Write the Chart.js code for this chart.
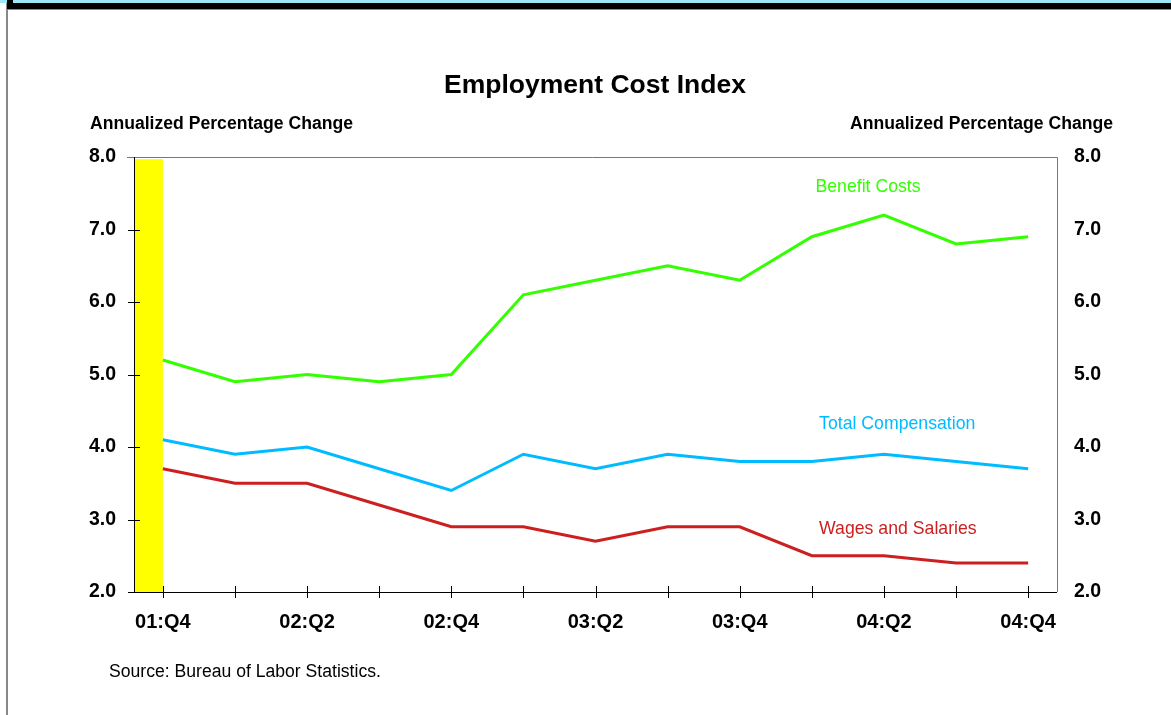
<!DOCTYPE html>
<html>
<head>
<meta charset="utf-8">
<script src="https://cdn.jsdelivr.net/npm/chart.js@4"></script>
<style>
  body { margin: 0; background: #fff; font-family: "Liberation Sans", Arial, sans-serif; }
  #wrap { position: relative; width: 1171px; height: 715px; overflow: hidden; }
  #chart { position: absolute; left: 0; top: 0; }
  .cyan { position: absolute; left: 0; top: 0; width: 1171px; height: 3px; background: #9de6f6; }
  .black { position: absolute; left: 7px; top: 3px; width: 1164px; height: 6px; background: #000; }
  .blackL { position: absolute; left: 7px; top: 0; width: 6px; height: 9px; background: #000; }
  .grayT { position: absolute; left: 7px; top: 9px; width: 1164px; height: 1px; background: #888; }
  .grayL { position: absolute; left: 6px; top: 0; width: 2px; height: 715px; background: #888; }
  .txt { position: absolute; white-space: nowrap; color: #000; }
  #title { left: 0; width: 1190px; text-align: center; top: 69px; font-size: 26.5px; font-weight: bold; }
  .axt { top: 113px; font-size: 17.6px; font-weight: bold; }
  #src { left: 109px; top: 661px; font-size: 17.6px; }
</style>
</head>
<body>
<div id="wrap">
  <canvas id="chart" width="1171" height="715"></canvas>
  <div class="grayL"></div>
  <div class="cyan"></div>
  <div class="black"></div>
  <div class="blackL"></div>
  <div class="grayT"></div>
  <div class="txt" id="title">Employment Cost Index</div>
  <div class="txt axt" style="left:90px">Annualized Percentage Change</div>
  <div class="txt axt" style="right:58px">Annualized Percentage Change</div>
  <div class="txt" id="src">Source: Bureau of Labor Statistics.</div>
</div>
<script>
// quarters 01:Q4 .. 04:Q4
const quarters = ['01:Q4', '02:Q1', '02:Q2', '02:Q3', '02:Q4', '03:Q1', '03:Q2',
                  '03:Q3', '03:Q4', '04:Q1', '04:Q2', '04:Q3', '04:Q4'];
const benefitCosts = [5.2, 4.9, 5.0, 4.9, 5.0, 6.1, 6.3, 6.5, 6.3, 6.9, 7.2, 6.8, 6.9];
const totalComp = [4.1, 3.9, 4.0, 3.7, 3.4, 3.9, 3.7, 3.9, 3.8, 3.8, 3.9, 3.8, 3.7];
const wagesSalaries = [3.7, 3.5, 3.5, 3.2, 2.9, 2.9, 2.7, 2.9, 2.9, 2.5, 2.5, 2.4, 2.4];
const yTicks = [2, 3, 4, 5, 6, 7, 8];
const xLabelIdx = [0, 2, 4, 6, 8, 10, 12];
// recession shading (ends 01:Q4)
const recession = { from: -0.4, to: 0, top: 7.97 };

const GREEN = '#33ff00', CYAN = '#00bbff', RED = '#cc1f1f';

const seriesLabels = [
  { text: 'Benefit Costs', x: 9.05, y: 7.59, color: GREEN },
  { text: 'Total Compensation', x: 9.1, y: 4.32, color: CYAN },
  { text: 'Wages and Salaries', x: 9.1, y: 2.87, color: RED }
];

const toPts = arr => arr.map((v, i) => ({ x: i, y: v }));

// frame, tick marks, recession bar, series labels
const decor = {
  id: 'decor',
  beforeDatasetsDraw(chart) {
    const ctx = chart.ctx, xs = chart.scales.x, ys = chart.scales.y;
    ctx.save();
    ctx.fillStyle = '#ffff00';
    const x1 = xs.getPixelForValue(recession.from), x2 = xs.getPixelForValue(recession.to);
    const y1 = ys.getPixelForValue(recession.top), y2 = ys.getPixelForValue(2);
    ctx.fillRect(x1, y1, x2 - x1, y2 - y1);
    ctx.restore();
  },
  afterDraw(chart) {
    const ctx = chart.ctx, a = chart.chartArea, xs = chart.scales.x, ys = chart.scales.y;
    ctx.save();
    ctx.lineWidth = 1;
    // gray top and right
    ctx.strokeStyle = '#777';
    ctx.beginPath();
    ctx.moveTo(a.left - 7, a.top + 0.5); ctx.lineTo(a.right + 0.5, a.top + 0.5);
    ctx.lineTo(a.right + 0.5, a.bottom);
    ctx.stroke();
    // black left and bottom
    ctx.strokeStyle = '#000';
    ctx.beginPath();
    ctx.moveTo(a.left + 0.5, a.top); ctx.lineTo(a.left + 0.5, a.bottom + 0.5);
    ctx.lineTo(a.right, a.bottom + 0.5);
    ctx.stroke();
    // ticks
    ctx.beginPath();
    yTicks.forEach(v => {
      const y = Math.round(ys.getPixelForValue(v)) + 0.5;
      if (v === 8) return;
      ctx.moveTo(a.left - 6, y); ctx.lineTo(a.left + 6, y);
    });
    quarters.forEach((q, i) => {
      const x = Math.round(xs.getPixelForValue(i)) + 0.5;
      ctx.moveTo(x, a.bottom - 6); ctx.lineTo(x, a.bottom + 6);
    });
    ctx.stroke();
    // series labels
    ctx.font = '17.7px "Liberation Sans", Arial, sans-serif';
    ctx.textBaseline = 'middle';
    ctx.textAlign = 'left';
    seriesLabels.forEach(l => {
      ctx.fillStyle = l.color;
      ctx.fillText(l.text, xs.getPixelForValue(l.x), ys.getPixelForValue(l.y));
    });
    ctx.restore();
  }
};

const tickFont = { family: '"Liberation Sans", Arial, sans-serif', size: 19.5, weight: 'bold' };
const xFont = { family: '"Liberation Sans", Arial, sans-serif', size: 20, weight: 'bold' };

new Chart(document.getElementById('chart'), {
  type: 'line',
  data: {
    datasets: [
      { label: 'Benefit Costs', data: toPts(benefitCosts), borderColor: GREEN },
      { label: 'Total Compensation', data: toPts(totalComp), borderColor: CYAN },
      { label: 'Wages and Salaries', data: toPts(wagesSalaries), borderColor: RED }
    ]
  },
  options: {
    responsive: false,
    animation: false,
    layout: { padding: { top: 157, left: 0, right: 0, bottom: 0 } },
    elements: {
      line: { borderWidth: 3, tension: 0, borderJoinStyle: 'miter' },
      point: { radius: 0 }
    },
    plugins: { legend: { display: false }, tooltip: { enabled: false } },
    scales: {
      x: {
        type: 'linear', min: recession.from, max: 12.4,
        afterBuildTicks: s => { s.ticks = xLabelIdx.map(v => ({ value: v })); },
        afterFit: s => { s.height = 123; },
        grid: { display: false, drawTicks: false },
        border: { display: false },
        ticks: { color: '#000', font: xFont, padding: 18, maxRotation: 0, autoSkip: false,
                 callback: v => quarters[v] }
      },
      y: {
        position: 'left', min: 2, max: 8,
        afterBuildTicks: s => { s.ticks = yTicks.map(v => ({ value: v })); },
        afterFit: s => { s.width = 134; },
        grid: { display: false, drawTicks: false },
        border: { display: false },
        ticks: { color: '#000', font: tickFont, padding: 18, callback: v => v.toFixed(1) }
      },
      y2: {
        position: 'right', min: 2, max: 8,
        afterBuildTicks: s => { s.ticks = yTicks.map(v => ({ value: v })); },
        afterFit: s => { s.width = 114; },
        grid: { display: false, drawTicks: false },
        border: { display: false },
        ticks: { color: '#000', font: tickFont, padding: 17, callback: v => v.toFixed(1) }
      }
    }
  },
  plugins: [decor]
});
</script>
</body>
</html>
